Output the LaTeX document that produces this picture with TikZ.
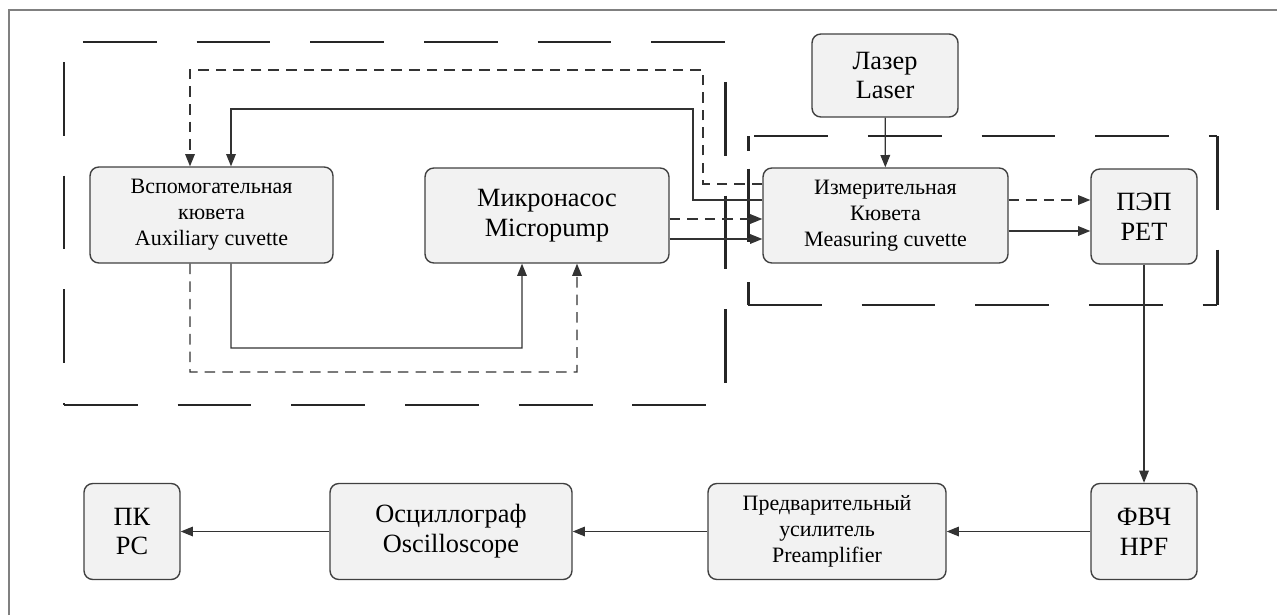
\documentclass[tikz,border=0pt]{standalone}
\usepackage{fontspec}
\setmainfont{Liberation Serif}
\usetikzlibrary{arrows.meta}
\tikzset{
	block/.style={draw=black!75, fill=black!5, rounded corners=5pt, line width=0.8pt,
		align=center, inner sep=0pt, font=\fontsize{12.5}{14.8}\selectfont},
	bigblock/.style={block, font=\fontsize{15}{17}\selectfont},
	flow/.style={line width=0.7pt, draw=black!80, -{Triangle[length=7pt,width=5.5pt]}},
	dflow/.style={flow, dash pattern=on 6pt off 4pt},
	groupline/.style={line width=1.7pt, draw=black!85, dash pattern=on 42pt off 22.7pt}
}
\begin{document}
\begin{tikzpicture}[x=0.02cm,y=-0.02cm]
		\useasboundingbox (0,0) rectangle (1277,615);
		% frame of the figure
		\draw[black!50, line width=0.8pt] (9,615) -- (9,10) -- (1277,10);
		% blocks
		\node[block, minimum width=4.86cm, minimum height=1.92cm] (aux) at (211.5,215) {Вспомогательная\\кювета\\Auxiliary cuvette};
		\node[bigblock, minimum width=4.88cm, minimum height=1.9cm] (pump) at (547,215.5) {Микронасос\\Micropump};
		\node[bigblock, minimum width=2.92cm, minimum height=1.66cm] (laser) at (885,75.5) {Лазер\\Laser};
		\node[block, minimum width=4.9cm, minimum height=1.9cm] (meas) at (885.5,215.5) {Измерительная\\Кювета\\Measuring cuvette};
		\node[bigblock, minimum width=2.12cm, minimum height=1.9cm] (pet) at (1144,216.5) {ПЭП\\PET};
		\node[bigblock, minimum width=2.12cm, minimum height=1.92cm] (hpf) at (1144,531.5) {ФВЧ\\HPF};
		\node[block, minimum width=4.76cm, minimum height=1.92cm] (pre) at (827,531.5) {Предварительный\\усилитель\\Preamplifier};
		\node[bigblock, minimum width=4.84cm, minimum height=1.92cm] (osc) at (451,531.5) {Осциллограф\\Oscilloscope};
		\node[bigblock, minimum width=1.92cm, minimum height=1.92cm] (pc) at (132,531.5) {ПК\\PC};
		% groups
		\draw[groupline, dash phase=53.9pt] (64,42) -- (725,42);
		\draw[groupline, dash phase=53.3pt] (64,42) -- (64,405);
		\draw[groupline] (64,405) -- (725,405);
		\draw[groupline, dash phase=42pt] (725,42) -- (725,405);
		\draw[groupline, dash phase=61.2pt] (748,136) -- (1217,136);
		\draw[groupline] (1217,136) -- (1217,305);
		\draw[groupline] (748,305) -- (1217,305);
		\draw[groupline, dash pattern=on 55pt off 10pt on 42pt off 22.7pt, dash phase=46.5pt] (748,136) -- (748,305);
		% circulation
		\draw[flow] ([yshift=0.31cm]meas.west) -| (693,109) -| ([xshift=0.39cm]aux.north);
		\draw[dflow] ([yshift=0.63cm]meas.west) -| (703,70) -| ([xshift=-0.43cm]aux.north);
		\draw[flow] ([xshift=0.39cm]aux.south) |- (522,348) -- ([xshift=-0.5cm]pump.south);
		\draw[dflow] ([xshift=-0.43cm]aux.south) |- (577,372) -- ([xshift=0.6cm]pump.south);
		\draw[dflow] ([yshift=-0.07cm]pump.east) -- ([yshift=-0.07cm]pump.east -| meas.west);
		\draw[flow] ([yshift=-0.47cm]pump.east) -- ([yshift=-0.47cm]pump.east -| meas.west);
		\draw[dflow] ([yshift=0.31cm]meas.east) -- ([yshift=0.31cm]meas.east -| pet.west);
		\draw[flow] ([yshift=-0.31cm]meas.east) -- ([yshift=-0.31cm]meas.east -| pet.west);
		% signal
		\draw[flow] (laser) -- (meas);
		\draw[flow] (pet) -- (hpf);
		\draw[flow] (hpf) -- (pre);
		\draw[flow] (pre) -- (osc);
		\draw[flow] (osc) -- (pc);
\end{tikzpicture}
\end{document}
